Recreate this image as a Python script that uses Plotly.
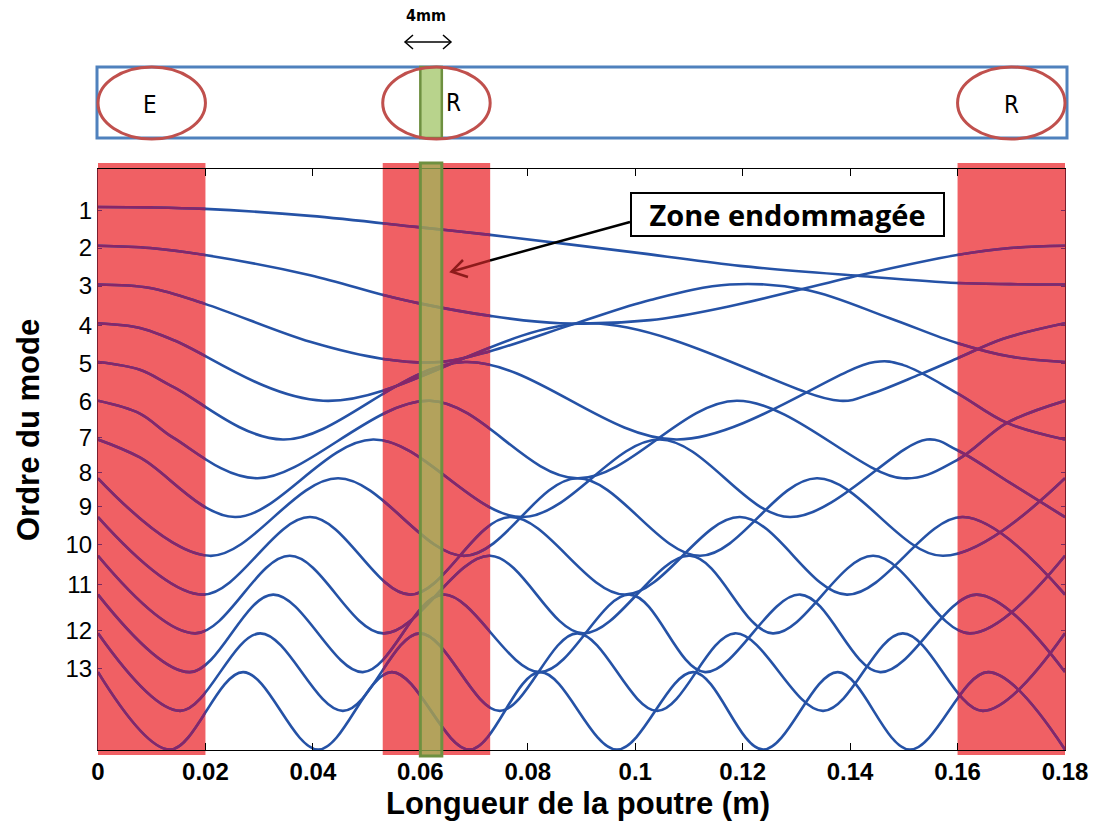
import plotly.graph_objects as go

# ---------------- data ----------------
x_tick_vals = [0, 0.02, 0.04, 0.06, 0.08, 0.10, 0.12, 0.14, 0.16, 0.18]
x_tick_text = ["0", "0.02", "0.04", "0.06", "0.08", "0.1", "0.12", "0.14", "0.16", "0.18"]
y_tick_vals = [1.10, 2.06, 3.04, 4.05, 5.05, 6.01, 6.96, 7.84, 8.72, 9.72, 10.73, 11.92, 12.90]
y_tick_text = ["1", "2", "3", "4", "5", "6", "7", "8", "9", "10", "11", "12", "13"]

mode1_x = [0, 0.0097, 0.0199, 0.0395, 0.0596, 0.0730, 0.1009, 0.1195, 0.1418, 0.1599, 0.1698, 0.18]
mode1_y = [1.0, 1.01, 1.05, 1.23, 1.52, 1.72, 2.19, 2.52, 2.78, 2.96, 2.99, 3.0]
mode2_x = [0, 0.0097, 0.0199, 0.0395, 0.0531, 0.0596, 0.0730, 0.0860, 0.1028, 0.1176, 0.1418, 0.1599, 0.1698, 0.18]
mode2_y = [2.0, 2.06, 2.24, 2.76, 3.27, 3.48, 3.81, 4.0, 3.92, 3.56, 2.76, 2.24, 2.06, 2.0]
mode3_x = [0, 0.0097, 0.0199, 0.0395, 0.0531, 0.0637, 0.0730, 0.0892, 0.1028, 0.1176, 0.1320, 0.1474,
           0.1599, 0.1698, 0.18]
mode3_y = [3.0, 3.09, 3.50, 4.48, 4.92, 5.0, 4.72, 3.99, 3.40, 3.0, 3.14, 3.87, 4.51, 4.86, 5.0]
mode4_x = [0, 0.0078, 0.0140, 0.0419, 0.0916, 0.1381, 0.1437, 0.1530, 0.1599, 0.1685, 0.18]
mode4_y = [4, 4.12, 4.43, 6, 4, 6, 5.83, 5.32, 4.91, 4.40, 4]
mode5_x = [0, 0.0078, 0.0140, 0.0344, 0.0683, 0.1078, 0.1446, 0.1499, 0.1599, 0.1692, 0.18]
mode5_y = [5, 5.20, 5.64, 7, 5, 7, 5, 5.08, 5.80, 6.57, 7]
mode6_x = [0, 0.0078, 0.0140, 0.0296, 0.0618, 0.0892, 0.1189, 0.1498, 0.1599, 0.1692, 0.18]
mode6_y = [6, 6.33, 6.95, 8, 6, 8, 6, 8, 7.53, 6.57, 6]
mode7_x = [0, 0.0078, 0.0255, 0.0512, 0.0791, 0.1046, 0.1288, 0.1543, 0.1599, 0.1698, 0.18]
mode7_y = [7, 7.46, 9, 7, 9, 7, 9, 7, 7.27, 8.12, 9]
mode8_x = [0, 0.0208, 0.0447, 0.0683, 0.0892, 0.1121, 0.1338, 0.1573, 0.18]
mode8_y = [8, 10, 8, 10, 8, 10, 8, 10, 8]
mode9_x = [0, 0.0195, 0.0395, 0.0581, 0.0767, 0.0981, 0.1195, 0.1394, 0.1610, 0.18]
mode9_y = [9, 11, 9, 11, 9, 11, 9, 11, 9, 11]
mode10_x = [0, 0.0181, 0.0357, 0.0531, 0.0730, 0.0903, 0.1102, 0.1256, 0.1443, 0.1623, 0.18]
mode10_y = [10, 12, 10, 12, 10, 12, 10, 12, 10, 12, 10]
mode11_x = [0, 0.0171, 0.0326, 0.0493, 0.0642, 0.0823, 0.0990, 0.1130, 0.1307, 0.1456, 0.1636, 0.18]
mode11_y = [11, 13, 11, 13, 11, 13, 11, 13, 11, 13, 11, 13]
mode12_x = [0, 0.0153, 0.0302, 0.0456, 0.0599, 0.0748, 0.0892, 0.1041, 0.1186, 0.1350, 0.1498, 0.1647, 0.18]
mode12_y = [12, 14, 12, 14, 12, 14, 12, 14, 12, 14, 12, 14, 12]
mode13_x = [0, 0.0134, 0.0270, 0.0410, 0.0547, 0.0692, 0.0823, 0.0966, 0.1108, 0.1238, 0.1377, 0.1511, 0.1657, 0.18]
mode13_y = [13, 15, 13, 15, 13, 15, 13, 15, 13, 15, 13, 15, 13, 15]

supports_x = [(0.0, 0.02), (0.053, 0.073), (0.16, 0.18)]
support_labels = ["E", "R", "R"]
damage_x = (0.060, 0.064)

modes = [(mode1_x, mode1_y), (mode2_x, mode2_y), (mode3_x, mode3_y), (mode4_x, mode4_y),
         (mode5_x, mode5_y), (mode6_x, mode6_y), (mode7_x, mode7_y), (mode8_x, mode8_y),
         (mode9_x, mode9_y), (mode10_x, mode10_y), (mode11_x, mode11_y), (mode12_x, mode12_y),
         (mode13_x, mode13_y)]

# ---------------- layout geometry (page pixels) ----------------
W, H = 1101, 824
PL, PR, PT, PB = 98, 1065, 169, 750          # plot area in page pixels
X_RANGE = [0, 0.18]
Y_RANGE = [15.01, 0.02]


def px(p):
    return (p - PL) / (PR - PL)


def py(p):
    return (PB - p) / (PB - PT)


def dx(x):
    return (x - X_RANGE[0]) / (X_RANGE[1] - X_RANGE[0])


BLUE = "#2552A6"
PURPLE = "#86266A"
BAND = "rgb(240,96,100)"
fig = go.Figure()
for i, (xs, ys) in enumerate(modes):
    fig.add_trace(go.Scatter(x=xs, y=ys, mode="lines", line=dict(color=BLUE, width=2.6, shape="spline", smoothing=1.0),
                             showlegend=False, hoverinfo="skip"))
# same curves seen through the red support bands (clipped to each band by its own x axis)
for j, (a, b) in enumerate(supports_x):
    ax_name = f"x{j + 2}"
    for xs, ys in modes:
        fig.add_trace(go.Scatter(x=xs, y=ys, xaxis=ax_name, yaxis="y", mode="lines",
                                 line=dict(color=PURPLE, width=2.6, shape="spline", smoothing=1.0),
                                 showlegend=False, hoverinfo="skip"))

shapes = []
# red support bands (under the curves)
for (a, b) in supports_x:
    shapes.append(dict(type="rect", xref="paper", yref="paper", x0=dx(a), x1=dx(b), y0=py(755), y1=py(163),
                       fillcolor=BAND, line=dict(width=0), layer="below"))
# arrow towards the damaged zone
shapes.append(dict(type="line", xref="paper", yref="paper", x0=px(630), y0=py(222), x1=px(490), y1=py(260.5),
                   line=dict(color="black", width=2.5), layer="above"))
shapes.append(dict(type="line", xref="paper", yref="paper", x0=px(490), y0=py(260.5), x1=px(452), y1=py(271.5),
                   line=dict(color="#8E1B1B", width=2.5), layer="above"))
shapes.append(dict(type="path", xref="paper", yref="paper",
                   path=f"M {px(468)},{py(277)} L {px(451.5)},{py(271.7)} L {px(463)},{py(260)}",
                   line=dict(color="#8E1B1B", width=2.5), layer="above"))
# damaged zone
shapes.append(dict(type="rect", xref="paper", yref="paper", x0=dx(damage_x[0]), x1=dx(damage_x[1]),
                   y0=py(756), y1=py(163), fillcolor="rgba(155,187,89,0.72)",
                   line=dict(color="#6E9040", width=3), layer="above"))

# top beam sketch
shapes.append(dict(type="rect", xref="paper", yref="paper", x0=px(97), x1=px(1067), y0=py(138), y1=py(67),
                   line=dict(color="#4F81BD", width=3), fillcolor="white", layer="above"))
shapes.append(dict(type="rect", xref="paper", yref="paper", x0=dx(damage_x[0]), x1=dx(damage_x[1]),
                   y0=py(138), y1=py(67), fillcolor="#B8D38C", line=dict(color="#6E9040", width=2.5),
                   layer="above"))
for (a, b) in supports_x:
    shapes.append(dict(type="circle", xref="paper", yref="paper", x0=dx(a), x1=dx(b), y0=py(139), y1=py(67),
                       line=dict(color="#C0504D", width=3), layer="above"))
# 4mm double arrow
shapes.append(dict(type="line", xref="paper", yref="paper", x0=px(405), x1=px(451), y0=py(42), y1=py(42),
                   line=dict(color="black", width=1.5)))
shapes.append(dict(type="path", xref="paper", yref="paper",
                   path=f"M {px(413)},{py(35)} L {px(405)},{py(42)} L {px(413)},{py(49)}",
                   line=dict(color="black", width=1.5)))
shapes.append(dict(type="path", xref="paper", yref="paper",
                   path=f"M {px(443)},{py(35)} L {px(451)},{py(42)} L {px(443)},{py(49)}",
                   line=dict(color="black", width=1.5)))

annotations = []
NARROW = "Liberation Sans Narrow, Arial Narrow, DejaVu Sans Condensed, sans-serif"
SANS = "Liberation Sans, Arial, sans-serif"
label_px = [(150, 105), (453, 103), (1011, 105)]
for (lx, ly), t in zip(label_px, support_labels):
    annotations.append(dict(x=px(lx), y=py(ly), xref="paper", yref="paper", text=t, showarrow=False,
                            font=dict(family=NARROW, size=24, color="black"), xanchor="center", yanchor="middle"))
annotations.append(dict(x=px(426), y=py(15), xref="paper", yref="paper", text="<b>4mm</b>", showarrow=False,
                        font=dict(family=NARROW, size=16, color="black"), xanchor="center", yanchor="middle"))
annotations.append(dict(x=px(787.5), y=py(214.5), xref="paper", yref="paper", text="<b>Zone endommagée</b>",
                        showarrow=False, font=dict(family="Open Sans, Arial, sans-serif", size=29, color="black"),
                        xanchor="center", yanchor="middle", bgcolor="white", bordercolor="black", borderwidth=2,
                        borderpad=0, width=311, height=41))
annotations.append(dict(x=px(578), y=py(803), xref="paper", yref="paper", text="<b>Longueur de la poutre (m)</b>",
                        showarrow=False, font=dict(family=SANS, size=31, color="black"),
                        xanchor="center", yanchor="middle"))
annotations.append(dict(x=px(28), y=py(430), xref="paper", yref="paper", text="<b>Ordre du mode</b>",
                        showarrow=False, textangle=-90, font=dict(family=SANS, size=31, color="black"),
                        xanchor="center", yanchor="middle"))

layout = dict(
    width=W, height=H, margin=dict(l=PL, r=W - PR, t=PT, b=H - PB, autoexpand=False),
    paper_bgcolor="white", plot_bgcolor="rgba(0,0,0,0)", showlegend=False,
    shapes=shapes, annotations=annotations,
    xaxis=dict(range=X_RANGE, tickvals=x_tick_vals, ticktext=x_tick_text, showgrid=False, zeroline=False,
               showline=True, linecolor="black", linewidth=1, mirror="ticks", ticks="inside", ticklen=7,
               tickcolor="black", tickfont=dict(family=SANS, size=24, color="black", weight="bold")),
    yaxis=dict(range=Y_RANGE, tickvals=y_tick_vals, ticktext=y_tick_text, showgrid=False, zeroline=False,
               showline=True, linecolor="#7A1E2E", linewidth=1, mirror="ticks", ticks="inside", ticklen=4,
               tickcolor="#7A2A60", tickfont=dict(family=SANS, size=24, color="black")),
)
for j, (a, b) in enumerate(supports_x):
    layout[f"xaxis{j + 2}"] = dict(domain=[dx(a), dx(b)], range=[a, b], anchor="y", visible=False,
                                   showgrid=False, zeroline=False, fixedrange=True)
fig.update_layout(**layout)

fig.write_html("out.html", config={"displayModeBar": False, "staticPlot": True},
               post_script="document.body.style.margin='0';document.body.style.padding='0';")
